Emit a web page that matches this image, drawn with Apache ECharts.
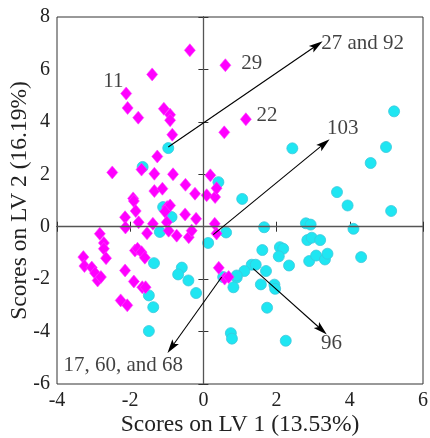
<!DOCTYPE html>
<html><head><meta charset="utf-8">
<script src="https://cdn.jsdelivr.net/npm/echarts@6/dist/echarts.min.js"></script>
<style>html,body{margin:0;padding:0;background:#fff}#c{width:430px;height:438px}</style>
</head><body><div id="c"></div>
<script>
// x ticks and y ticks
const xTicks = [-4, -2, 0, 2, 4, 6];
const yTicks = [-6, -4, -2, 0, 2, 4, 6, 8];

// Class 1 (magenta diamonds): [LV1, LV2]
const classA = [[-0.37,6.73],[0.60,6.16],[-1.40,5.81],[-2.11,5.08],[-2.07,4.53],[-1.78,4.16],[-1.08,4.50],[-0.91,4.27],[-0.91,4.06],[-0.85,3.51],[0.57,3.60],[1.16,4.10],[-1.26,2.68],[-2.49,2.07],[-1.69,2.18],[-1.34,2.02],[-0.83,2.00],[0.19,1.96],[-0.49,1.60],[-1.34,1.36],[-1.12,1.45],[-0.23,1.26],[-1.92,1.08],[0.09,1.20],[0.32,1.13],[0.36,1.47],[-1.90,0.98],[-1.85,0.60],[-0.99,0.75],[-0.91,0.81],[-1.05,0.58],[-0.50,0.47],[-2.14,0.36],[-0.20,0.30],[-1.77,0.17],[-1.38,0.11],[-1.00,0.17],[0.31,0.11],[-2.13,-0.03],[-1.54,-0.25],[-0.95,-0.15],[-0.73,-0.34],[-0.40,-0.40],[-0.32,-0.15],[0.36,-0.26],[-2.83,-0.27],[-2.72,-0.62],[-2.72,-0.84],[-2.66,-1.20],[-3.28,-1.16],[-3.25,-1.50],[-3.05,-1.56],[-2.96,-1.77],[-2.89,-2.05],[-2.80,-1.92],[-1.87,-0.91],[-1.80,-0.84],[-1.69,-0.97],[-1.60,-1.18],[-2.14,-1.67],[-1.90,-2.09],[-1.67,-2.31],[-1.58,-2.31],[-2.26,-2.81],[-2.08,-3.00],[0.42,-1.57],[0.58,-1.98],[0.69,-1.92]];

// Class 2 (cyan circles): [LV1, LV2]
const classB = [[-0.96,3.00],[-1.66,2.28],[0.41,1.70],[1.06,1.06],[5.21,4.40],[4.99,3.04],[4.57,2.43],[2.43,2.99],[3.65,1.32],[3.94,0.81],[5.13,0.60],[-1.10,0.75],[-0.87,0.37],[-1.19,-0.20],[0.13,-0.62],[0.62,-0.22],[1.66,-0.02],[2.80,0.13],[2.93,0.08],[4.10,-0.08],[2.84,-0.51],[2.96,-0.42],[3.19,-0.51],[1.61,-0.89],[2.09,-0.78],[2.18,-0.84],[2.06,-1.13],[2.34,-1.48],[2.89,-1.31],[3.08,-1.10],[3.32,-1.25],[3.39,-1.03],[4.31,-1.16],[1.32,-1.45],[1.43,-1.45],[1.12,-1.69],[0.91,-1.94],[1.71,-1.69],[0.82,-2.31],[1.57,-2.20],[1.94,-2.21],[1.96,-2.37],[1.74,-3.09],[2.25,-4.35],[0.75,-4.06],[0.78,-4.27],[-0.20,-2.53],[-1.35,-1.39],[-0.59,-1.56],[-0.69,-1.82],[-0.41,-2.05],[-1.49,-2.62],[-1.37,-3.07],[-1.49,-3.98],[0.91,-1.86],[0.54,-1.92]];

// Arrows: [startX, startY, endX, endY]
const arrows = [[-0.96,3.04,3.10,6.92],[0.27,-0.30,3.30,3.17],[0.50,-1.92,-0.87,-4.60],[1.36,-1.60,3.23,-3.93]];

// Text annotations: [x, y, text]
const annotations = [[-2.46,5.55,'11'],[1.32,6.23,'29'],[1.74,4.25,'22'],[4.35,6.98,'27 and 92'],[3.81,3.74,'103'],[-2.19,-5.29,'17, 60, and 68'],[3.50,-4.47,'96']];

const FONT = 'Liberation Serif';
const chart = echarts.init(document.getElementById('c'), null, {renderer:'canvas'});
const axisCommon = {
  type:'value', splitLine:{show:false},
  axisLine:{show:true, lineStyle:{color:'#333', width:1}},
  axisTick:{show:true, inside:true, length:5, lineStyle:{color:'#333'}}
};
chart.setOption({
  animation:false,
  grid:{left:57, right:7, top:17, bottom:54, show:true, borderColor:'#333', borderWidth:1, containLabel:false, outerBoundsMode:'none'},
  xAxis:[
    Object.assign({}, axisCommon, {min:xTicks[0], max:xTicks[xTicks.length-1], interval:2, position:'bottom',
      axisLabel:{fontFamily:FONT, fontSize:20, color:'#222', margin:7},
      name:'Scores on LV 1 (13.53%)', nameLocation:'middle', nameGap:29, nameMoveOverlap:false,
      nameTextStyle:{fontFamily:FONT, fontSize:23.5, color:'#222'}}),
    Object.assign({}, axisCommon, {min:xTicks[0], max:xTicks[xTicks.length-1], interval:2, position:'top', axisLabel:{show:false}})
  ],
  yAxis:[
    Object.assign({}, axisCommon, {min:yTicks[0], max:yTicks[yTicks.length-1], interval:2, position:'left',
      axisLabel:{fontFamily:FONT, fontSize:20, color:'#222', margin:7},
      name:'Scores on LV 2 (16.19%)', nameLocation:'middle', nameGap:25, nameMoveOverlap:false,
      nameTextStyle:{fontFamily:FONT, fontSize:23.5, color:'#222'}}),
    Object.assign({}, axisCommon, {min:yTicks[0], max:yTicks[yTicks.length-1], interval:2, position:'right', axisLabel:{show:false}})
  ],
  series:[
    {type:'scatter', data:[], silent:true,
      markLine:{silent:true, symbol:['none','none'], label:{show:false},
        lineStyle:{color:'#555', width:1.3, type:'solid'},
        data:[{xAxis:0},{yAxis:0}]}},
    {type:'scatter', data:classB, symbol:'circle', symbolSize:11,
      itemStyle:{color:'#1fe6f2', borderColor:'#3cc8dc', borderWidth:0.8, opacity:1}},
    {type:'scatter', data:classA, symbol:'diamond', symbolSize:[11,13],
      itemStyle:{color:'#ff00ff', borderColor:'#ff40ff', borderWidth:0.6, opacity:1}},
    {type:'scatter', data:[], silent:true, z:5,
      markLine:{silent:true, label:{show:false}, lineStyle:{color:'#000', width:1.1, type:'solid'},
        symbol:['none','arrow'], symbolSize:[0,12],
        data: arrows.map(a => [{coord:[a[0],a[1]], symbol:'none'},{coord:[a[2],a[3]], symbol:'path://M0,0 L4,14 L0,11 L-4,14 Z', symbolSize:[8,14]}])}},
    {type:'scatter', data: annotations.map(a => ({value:[a[0],a[1]], name:a[2]})), symbolSize:0, silent:true, z:6,
      label:{show:true, position:'inside', formatter:p=>p.name, fontFamily:FONT, fontSize:21, color:'#111'}}
  ]
});
</script></body></html>
